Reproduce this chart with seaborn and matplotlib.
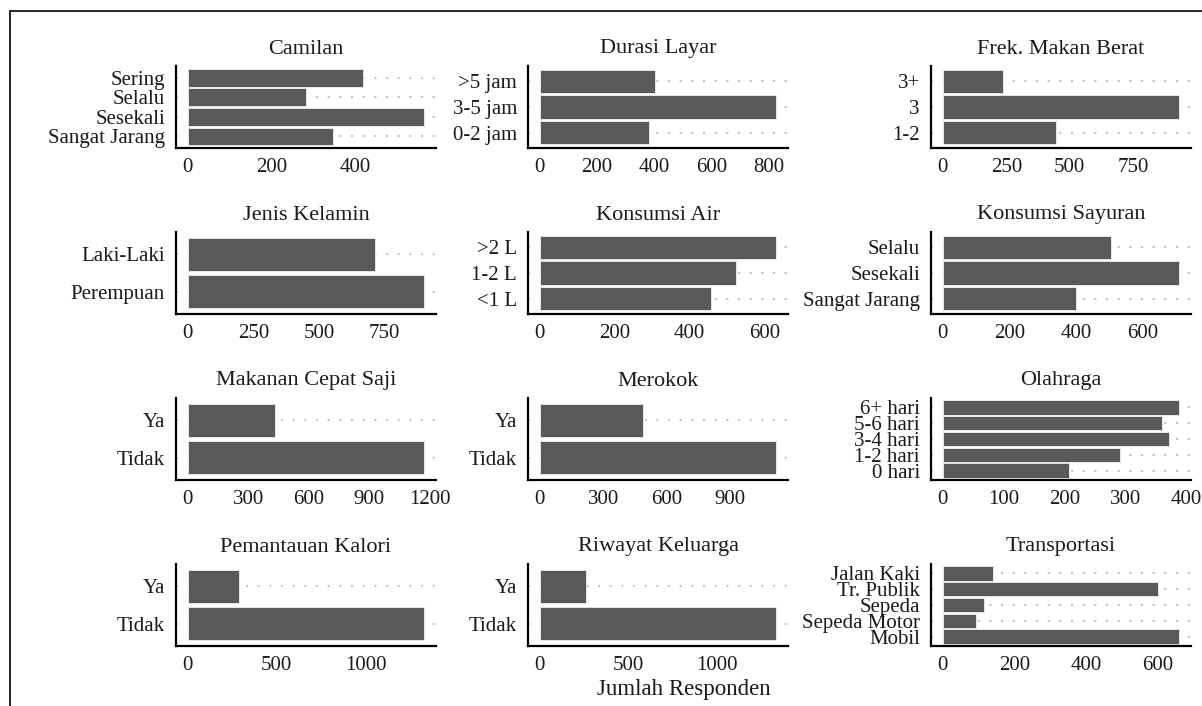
import numpy as np
import pandas as pd
import matplotlib
matplotlib.use("Agg")
import matplotlib.pyplot as plt
from matplotlib.lines import Line2D
import seaborn as sns

# ---- survey counts, one panel per variable (categories listed top to bottom) ----
titles = ["Camilan", "Durasi Layar", "Frek. Makan Berat",
          "Jenis Kelamin", "Konsumsi Air", "Konsumsi Sayuran",
          "Makanan Cepat Saji", "Merokok", "Olahraga",
          "Pemantauan Kalori", "Riwayat Keluarga", "Transportasi"]

camilan_cat = ["Sering", "Selalu", "Sesekali", "Sangat Jarang"]
camilan_val = [417, 283, 564, 346]

durasi_cat = [">5 jam", "3-5 jam", "0-2 jam"]
durasi_val = [402, 826, 381]

makan_cat = ["3+", "3", "1-2"]
makan_val = [239, 931, 446]

kelamin_cat = ["Laki-Laki", "Perempuan"]
kelamin_val = [715, 901]

air_cat = [">2 L", "1-2 L", "<1 L"]
air_val = [631, 523, 457]

sayur_cat = ["Selalu", "Sesekali", "Sangat Jarang"]
sayur_val = [504, 710, 401]

cepat_cat = ["Ya", "Tidak"]
cepat_val = [434, 1172]

rokok_cat = ["Ya", "Tidak"]
rokok_val = [491, 1120]

olahraga_cat = ["6+ hari", "5-6 hari", "3-4 hari", "1-2 hari", "0 hari"]
olahraga_val = [388, 360, 372, 291, 207]

kalori_cat = ["Ya", "Tidak"]
kalori_val = [286, 1328]

riwayat_cat = ["Ya", "Tidak"]
riwayat_val = [262, 1338]

transport_cat = ["Jalan Kaki", "Tr. Publik", "Sepeda", "Sepeda Motor", "Mobil"]
transport_val = [139, 602, 116, 94, 661]

tick_steps = [200, 200, 250, 250, 200, 200, 300, 300, 100, 500, 500, 200]

panels = [
    (camilan_cat, camilan_val), (durasi_cat, durasi_val), (makan_cat, makan_val),
    (kelamin_cat, kelamin_val), (air_cat, air_val), (sayur_cat, sayur_val),
    (cepat_cat, cepat_val), (rokok_cat, rokok_val), (olahraga_cat, olahraga_val),
    (kalori_cat, kalori_val), (riwayat_cat, riwayat_val), (transport_cat, transport_val),
]

sns.set_theme(style="white")
plt.rcParams["font.family"] = ["Liberation Serif", "DejaVu Serif"]
plt.rcParams["text.color"] = "#1a1a1a"

W, H = 1202, 706
fig = plt.figure(figsize=(W / 100, H / 100), dpi=100)
fig.patch.set_facecolor("white")

col_left = [176, 528, 931]
row_top = [66, 232, 398, 564]
panel_w, panel_h = 260, 82

bar_color = "#595959"

for i, (title, (cats, vals)) in enumerate(zip(titles, panels)):
    r, c = divmod(i, 3)
    left = col_left[c] / W
    bottom = 1 - (row_top[r] + panel_h) / H
    ax = fig.add_axes([left, bottom, panel_w / W, panel_h / H])

    df = pd.DataFrame({"kategori": cats, "jumlah": vals})
    n = len(cats)

    # dotted guide lines at every category
    for k in range(n):
        ax.axhline(k, color="#c4c4c4", lw=1.5, ls=(0, (1, 4.6)), zorder=0)

    sns.barplot(data=df, x="jumlah", y="kategori", orient="h", order=cats,
                color=bar_color, saturation=1, width=0.9,
                edgecolor="#e6e6e6", linewidth=0.7, ax=ax, zorder=2)

    vmax = max(vals)
    ax.set_xlim(-0.05 * vmax, 1.05 * vmax)
    ax.set_ylim(n - 1 + 0.6, -0.6)
    ticks = np.arange(0, 1.05 * vmax + 1e-9, tick_steps[i])
    ax.set_xticks(ticks)
    ax.set_xticklabels([f"{int(t)}" for t in ticks])

    ax.set_xlabel("")
    ax.set_ylabel("")
    ax.set_title(title, fontsize=16, pad=9, color="#1a1a1a")

    for s in ["top", "right"]:
        ax.spines[s].set_visible(False)
    for s in ["left", "bottom"]:
        ax.spines[s].set_color("black")
        ax.spines[s].set_linewidth(1.6)
    ax.tick_params(axis="both", which="major", length=5, width=1.6,
                   color="black", labelsize=15, labelcolor="#1a1a1a")
    ax.tick_params(axis="x", pad=2)
    ax.tick_params(axis="y", pad=3)
    ax.set_facecolor("white")

# shared axis title centred under the panel block
x_center = (col_left[0] + col_left[2] + panel_w) / 2 / W
fig.text(x_center, 1 - 690 / H, "Jumlah Responden", ha="center", va="center",
         fontsize=16.5, color="#1a1a1a")

# outer frame lines
fig.add_artist(Line2D([9.5 / W, 1.0], [1 - 11 / H, 1 - 11 / H], color="black",
                      lw=1.2, transform=fig.transFigure))
fig.add_artist(Line2D([9.5 / W, 9.5 / W], [0.0, 1 - 11 / H], color="black",
                      lw=1.2, transform=fig.transFigure))

fig.savefig("out.png", dpi=100, facecolor="white")
